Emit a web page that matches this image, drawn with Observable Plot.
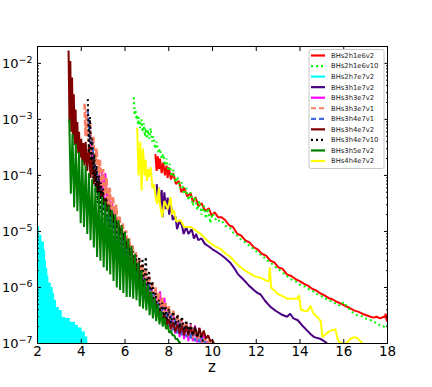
<!DOCTYPE html>
<html><head><meta charset="utf-8">
<script src="https://cdn.jsdelivr.net/npm/d3@7"></script>
<script src="https://cdn.jsdelivr.net/npm/@observablehq/plot@0.6"></script>
<style>body{margin:0;background:#fff;}</style>
</head><body><div id="chart"></div>
<script>
// ---- series metadata (legend order = draw order)
const seriesNames = ["BHs2h1e6v2","BHs2h1e6v10","BHs2h7e7v2","BHs3h1e7v2","BHs3h3e7v2","BHs3h3e7v1","BHs3h4e7v1","BHs3h4e7v2","BHs3h4e7v10","BHs3h5e7v2","BHs4h4e7v2"];
const seriesColors = ["#ff0000","#00ff00","#00ffff","#4b0082","#ff00ff","#fa7f62","#4169e1","#800000","#000000","#008000","#ffff00"];
const seriesDash = [null,"2,3",null,null,null,"6,2","6,2",null,"2,3",null,null];

// ---- tick labels
const xTicks = [2,4,6,8,10,12,14,16,18];
const yMajor = [1e-7,1e-6,1e-5,1e-4,1e-3,1e-2];
const yMinorMantissa = [2,3,4,5,6,7,8,9];

// ---- BHs2h1e6v2 (red): peak / dip values on a z grid
const redZ = [7.39,7.5,7.6,7.75,7.9,8.0,8.2,8.46,8.7,9.0,9.22,9.5,9.83,10.1,10.4,10.75,11.13,11.5,11.89,12.25,12.65,13.0,13.41,13.8,14.17,14.55,14.94,15.3,15.7,16.1,16.46,16.85,17.22,17.5,17.83,17.92,18.0];
const redTop = [2.4e-4,2.2e-4,2.0e-4,1.7e-4,1.5e-4,1.4e-4,1.1e-4,8e-5,6e-5,4.8e-5,4.1e-5,3.2e-5,2.6e-5,2.2e-5,1.8e-5,1.3e-5,9.1e-6,6.9e-6,5.2e-6,4e-6,3.0e-6,2.3e-6,1.7e-6,1.4e-6,1.17e-6,9.5e-7,7.8e-7,6.5e-7,5.5e-7,4.6e-7,3.9e-7,3.4e-7,3.0e-7,3.0e-7,3.0e-7,3.4e-7,2.5e-7];
const redDip = [1.2e-4,1.3e-4,1.1e-4,1.0e-4,9e-5,8.5e-5,7e-5,5e-5,4.2e-5,3.3e-5,2.8e-5,2.3e-5,1.9e-5,1.8e-5,1.6e-5,1.2e-5,8.4e-6,6.4e-6,4.8e-6,3.7e-6,2.8e-6,2.15e-6,1.6e-6,1.3e-6,1.08e-6,8.8e-7,7.2e-7,6.1e-7,5.1e-7,4.3e-7,3.7e-7,3.2e-7,2.9e-7,2.8e-7,2.9e-7,2.6e-7,2.5e-7];

// ---- BHs2h1e6v10 (lime, dotted)
const limeZ = [6.4,6.48,6.56,6.63,6.75,6.86,6.95,7.05,7.17,7.3,7.45,7.6,7.75,7.9,8.05,8.2,8.4,8.6,8.8,9.0,9.2,9.4,9.6,9.8,10.0,10.4,10.8,11.1,11.5,11.9,12.3,12.65,13.0,13.4,13.8,14.2,14.6,14.95,15.3,15.7,16.0,16.4,16.8,17.2,17.5,17.8,18.0];
const limeTop = [2.5e-3,1.5e-3,1.2e-3,1.1e-3,1.0e-3,8.5e-4,7e-4,6.5e-4,7e-4,5e-4,4e-4,3e-4,2.4e-4,2.0e-4,1.6e-4,1.25e-4,9.5e-5,7.5e-5,6e-5,5e-5,4.2e-5,3.5e-5,2.9e-5,2.6e-5,2.1e-5,1.6e-5,1.15e-5,8.6e-6,6.4e-6,4.8e-6,3.6e-6,2.8e-6,2.15e-6,1.6e-6,1.28e-6,1.05e-6,8.6e-7,7.2e-7,6.1e-7,5.1e-7,5.5e-7,3.6e-7,3.1e-7,2.65e-7,2.35e-7,2.05e-7,2.1e-7];
const limeDip = [1.2e-3,1.0e-3,8e-4,7e-4,6e-4,5e-4,4.5e-4,4.5e-4,4e-4,3e-4,2.5e-4,2e-4,1.5e-4,1.2e-4,9.5e-5,7.5e-5,6e-5,4.6e-5,3.6e-5,2.9e-5,2.4e-5,2e-5,1.7e-5,1.4e-5,1.5e-5,1.25e-5,9.6e-6,7.2e-6,5.5e-6,4.1e-6,3.1e-6,2.4e-6,1.85e-6,1.4e-6,1.12e-6,9.3e-7,7.6e-7,6.4e-7,5.4e-7,4.7e-7,4.3e-7,3.2e-7,2.8e-7,2.4e-7,2.1e-7,1.9e-7,1.9e-7];

// ---- BHs2h7e7v2 (cyan, dense -> filled)
const cyanZ = [2.0,2.1,2.2,2.32,2.37,2.41,2.47,2.52,2.63,2.72,2.78,2.87,3.0,3.13,3.28,3.5,3.74,3.87,4.04,4.19,4.3];
const cyanY = [1.2e-5,8.5e-6,6.5e-6,4.6e-6,3.0e-6,2.2e-6,1.6e-6,1.2e-6,1.0e-6,7.8e-7,5.9e-7,4.4e-7,3.9e-7,2.9e-7,2.8e-7,2.4e-7,2.1e-7,1.9e-7,1.6e-7,1.3e-7,1.1e-7];

// ---- BHs3h1e7v2 (indigo)
const indZ = [7.45,7.5,7.55,7.6,7.68,7.72,7.8,7.87,7.95,8.02,8.1,8.18,8.3,8.38,8.48,8.6,8.68,8.8,8.9,9.05,9.15,9.25,9.35,9.5,9.65,9.8,10.0,10.2,10.4,10.6,10.8,11.0,11.15,11.4,11.65,11.9,12.05,12.2,12.4,12.65,12.9,13.15,13.41,13.55,13.7,13.9,14.1,14.33,14.5,14.65,14.95,15.1,15.25];
const indY = [7e-5,3.5e-5,6e-5,3e-5,5.5e-5,1.8e-5,5e-5,2.5e-5,4e-5,2e-5,3e-5,1.6e-5,1.9e-5,1.1e-5,1.5e-5,1.3e-5,9e-6,1.2e-5,9e-6,1.1e-5,7.5e-6,9e-6,7e-6,7.5e-6,6e-6,5.5e-6,4.8e-6,4.3e-6,3.8e-6,3.3e-6,2.8e-6,2.2e-6,1.75e-6,1.4e-6,1.1e-6,8.9e-7,8e-7,7.5e-7,5.8e-7,4.5e-7,3.8e-7,3.3e-7,3.0e-7,3.4e-7,2.8e-7,2.6e-7,2.1e-7,1.7e-7,1.45e-7,1.3e-7,1.2e-7,1.1e-7,1.0e-7];

// ---- BHs3h3e7v2 (magenta)
const magZ = [4.4,4.6,4.8,4.95,5.1,5.25,5.4,5.55,5.7,5.85,6.0,6.2,6.4,6.6,6.8,7.0,7.2,7.4,7.6,7.8,8.0,8.2,8.4,8.6,8.8,9.0,9.2,9.4,9.6,9.8];
const magTop = [6e-4,2.2e-4,1.3e-4,1.2e-4,1.1e-4,6e-5,3.5e-5,2.3e-5,1.6e-5,1.15e-5,8.5e-6,5.8e-6,3.8e-6,2.6e-6,1.9e-6,1.5e-6,1.15e-6,9.5e-7,8.5e-7,6.5e-7,4.6e-7,3.6e-7,3.0e-7,2.6e-7,2.3e-7,2.2e-7,2.1e-7,1.9e-7,1.4e-7,1.1e-7];
const magDip = [2e-4,9e-5,5e-5,4e-5,3.5e-5,2.2e-5,1.3e-5,8.5e-6,6e-6,4.3e-6,3.2e-6,2.1e-6,1.4e-6,1e-6,7.5e-7,5.7e-7,4.3e-7,3.4e-7,3e-7,2.4e-7,1.8e-7,1.5e-7,1.3e-7,1.2e-7,1.1e-7,1.1e-7,1.05e-7,1e-7,1e-7,1e-7];

// ---- BHs3h3e7v1 (salmon, dashed)
const salZ = [4.15,4.25,4.4,4.55,4.7,4.85,5.0,5.15,5.3,5.45,5.6,5.75,5.9,6.05,6.2,6.35,6.5,6.65,6.8,6.95,7.1,7.25,7.4,7.55,7.7,7.85,8.0,8.2,8.4,8.6,8.8,9.0,9.2,9.4,9.6,9.8,10.0];
const salTop = [1.9e-3,1.5e-3,9e-4,5e-4,3e-4,1.9e-4,1.3e-4,9e-5,6e-5,4.2e-5,3e-5,1.9e-5,1.4e-5,1.05e-5,7.5e-6,5.7e-6,4.3e-6,3.3e-6,2.6e-6,2.0e-6,1.6e-6,1.25e-6,1.0e-6,8e-7,6.6e-7,5.5e-7,4.7e-7,3.9e-7,3.3e-7,2.8e-7,2.4e-7,2.1e-7,1.8e-7,1.5e-7,1.3e-7,1.1e-7,1.0e-7];
const salDip = [5e-4,4e-4,2.5e-4,1.5e-4,1e-4,6.5e-5,4.5e-5,3e-5,2e-5,1.4e-5,1e-5,7e-6,5e-6,3.8e-6,2.8e-6,2.1e-6,1.6e-6,1.3e-6,1.0e-6,8e-7,6.5e-7,5.2e-7,4.2e-7,3.5e-7,3e-7,2.6e-7,2.2e-7,1.9e-7,1.7e-7,1.5e-7,1.35e-7,1.25e-7,1.15e-7,1.05e-7,1.0e-7,1.0e-7,1.0e-7];

// ---- BHs3h4e7v1 (blue, dashed)
const bluZ = [4.3,4.5,4.7,4.9,5.1,5.3,5.5,5.7,5.9,6.1,6.3,6.5,6.7,6.9,7.1,7.3,7.5,7.7,7.9,8.1,8.3,8.5,8.7,8.9,9.1,9.3,9.5,9.7];
const bluTop = [1.5e-3,4e-4,1.3e-4,6e-5,3.5e-5,2.3e-5,1.5e-5,1e-5,7e-6,5e-6,3.5e-6,2.5e-6,1.8e-6,1.5e-6,1.2e-6,8e-7,5.5e-7,4.5e-7,3.8e-7,3.2e-7,2.7e-7,2.4e-7,2.1e-7,1.9e-7,1.7e-7,1.5e-7,1.3e-7,1.1e-7];
const bluDip = [4e-4,1.5e-4,5e-5,2.4e-5,1.4e-5,9e-6,6e-6,4e-6,2.8e-6,2e-6,1.4e-6,1e-6,8e-7,7e-7,5.5e-7,3.8e-7,2.8e-7,2.3e-7,2e-7,1.7e-7,1.5e-7,1.4e-7,1.3e-7,1.2e-7,1.1e-7,1.05e-7,1e-7,1e-7];

// ---- BHs3h4e7v2 (dark red)
const drZ = [3.42,3.5,3.58,3.66,3.74,3.82,3.9,4.0,4.1,4.2,4.35,4.5,4.65,4.8,4.95,5.1,5.25,5.4,5.55,5.7,5.85,6.0,6.15,6.3,6.45,6.6,6.75,6.9,7.05,7.2,7.4,7.6,7.8,8.0,8.2,8.4,8.6,8.8,9.0,9.2,9.4,9.6,9.8,10.0,10.1];
const drTop = [1.7e-2,1.1e-2,5.6e-3,2.8e-3,1.5e-3,9e-4,6e-4,4.5e-4,3.8e-4,4e-4,3.5e-4,2.2e-4,1.3e-4,8e-5,5.5e-5,4e-5,3e-5,2.3e-5,1.8e-5,1.4e-5,1.1e-5,8e-6,6e-6,4.5e-6,3.3e-6,2.3e-6,1.7e-6,1.2e-6,9e-7,7e-7,5.5e-7,4.2e-7,3.3e-7,2.7e-7,2.4e-7,2.2e-7,2.1e-7,2.1e-7,2.0e-7,2.0e-7,1.9e-7,1.7e-7,1.4e-7,1.15e-7,1.0e-7];
const drDip = [9e-4,6e-4,4.5e-4,3.5e-4,3e-4,2.5e-4,2.1e-4,1.7e-4,1.5e-4,1.2e-4,9e-5,7e-5,5e-5,3.8e-5,3e-5,2.4e-5,1.9e-5,1.5e-5,1.2e-5,9e-6,7e-6,5e-6,3.6e-6,2.6e-6,1.9e-6,1.3e-6,1.0e-6,7e-7,5e-7,4e-7,3.2e-7,2.6e-7,2.1e-7,1.8e-7,1.6e-7,1.5e-7,1.4e-7,1.4e-7,1.4e-7,1.3e-7,1.3e-7,1.2e-7,1.1e-7,1.0e-7,1.0e-7];

// ---- BHs3h4e7v10 (black, dotted)
const blkZ = [4.3,4.4,4.5,4.6,4.7,4.8,4.9,5.0,5.15,5.3,5.45,5.6,5.75,5.9,6.05,6.2,6.35,6.5,6.65,6.8,6.95,7.1,7.25,7.4,7.55,7.7,7.85,8.0,8.2,8.4,8.6,8.8,9.0,9.2,9.4,9.6];
const blkTop = [2.3e-3,1.1e-3,4.5e-4,2.4e-4,1.5e-4,1.0e-4,7.5e-5,5.8e-5,4e-5,2.9e-5,2.1e-5,1.6e-5,1.2e-5,9.5e-6,7e-6,5.4e-6,4.4e-6,3.8e-6,3.4e-6,3.3e-6,3.5e-6,2.0e-6,1.3e-6,8e-7,6e-7,5.3e-7,4.7e-7,4.2e-7,3.7e-7,3.3e-7,3.0e-7,2.6e-7,2.3e-7,2.0e-7,1.7e-7,1.1e-7];
const blkDip = [2.5e-4,1.8e-4,9e-5,5e-5,3.2e-5,2.2e-5,1.6e-5,1.2e-5,8.5e-6,6.3e-6,4.7e-6,3.6e-6,2.8e-6,2.2e-6,1.8e-6,1.5e-6,1.3e-6,1.15e-6,1.05e-6,1.0e-6,9.5e-7,7e-7,5.2e-7,3.8e-7,3.1e-7,2.8e-7,2.5e-7,2.3e-7,2.1e-7,1.9e-7,1.7e-7,1.55e-7,1.4e-7,1.3e-7,1.15e-7,1.0e-7];

// ---- BHs3h5e7v2 (green)
const grnZ = [3.45,3.6,3.75,3.9,4.05,4.2,4.35,4.5,4.65,4.8,4.95,5.1,5.25,5.4,5.55,5.7,5.85,6.0,6.15,6.3,6.45,6.6,6.75,6.9,7.05,7.2,7.35,7.5,7.65,7.8,7.95,8.1,8.25,8.4,8.55];
const grnTop = [1.0e-3,5.5e-4,3.7e-4,2.6e-4,1.9e-4,1.5e-4,1.1e-4,8.5e-5,6.4e-5,5.0e-5,4.2e-5,3.5e-5,2.9e-5,2.4e-5,2.0e-5,1.6e-5,1.3e-5,1.0e-5,7.5e-6,5.5e-6,4.0e-6,2.8e-6,2.0e-6,1.4e-6,1.1e-6,8.5e-7,6.5e-7,5.0e-7,3.8e-7,2.9e-7,2.1e-7,1.7e-7,1.4e-7,1.2e-7,1.05e-7];
const grnDip = [4.7e-5,2.7e-5,2.3e-5,1.4e-5,1.2e-5,9e-6,7e-6,5.2e-6,3.5e-6,3.0e-6,2.3e-6,2.0e-6,1.7e-6,1.3e-6,1.0e-6,9e-7,8e-7,6.8e-7,6.8e-7,6.3e-7,5.9e-7,4.6e-7,4.2e-7,3.9e-7,3.2e-7,2.8e-7,2.5e-7,2.2e-7,2.0e-7,1.8e-7,1.55e-7,1.4e-7,1.2e-7,1.05e-7,1.0e-7];

// ---- BHs4h4e7v2 (yellow)
const yelZ = [6.5,6.56,6.62,6.7,6.76,6.82,6.9,6.94,7.0,7.05,7.09,7.17,7.25,7.32,7.4,7.47,7.55,7.6,7.7,7.8,7.95,8.08,8.15,8.23,8.35,8.54,8.7,8.84,9.0,9.15,9.3,9.45,9.6,9.76,10.0,10.21,10.37,10.6,10.82,11.05,11.28,11.5,11.7,11.89,12.19,12.5,12.58,12.62,12.68,12.8,12.96,13.2,13.41,13.65,13.87,13.95,14.05,14.2,14.35,14.48,14.6,14.79,14.95,15.02,15.2,15.39,15.62,15.72,15.77,15.9,16.1,16.3,16.46,16.6,16.77,16.85];
const yelY = [6.8e-4,6.8e-4,1e-4,4e-4,5.4e-5,3e-4,1e-4,1.9e-4,8e-5,1.3e-4,9.3e-5,1.4e-4,6e-5,7.1e-5,4e-5,3.1e-5,6e-5,3e-5,1.8e-5,3.5e-5,2.5e-5,4.1e-5,2e-5,2.4e-5,1.5e-5,1.6e-5,1.2e-5,1.2e-5,1.2e-5,1.1e-5,1.0e-5,9.1e-6,8e-6,6.9e-6,5.8e-6,5.2e-6,4.9e-6,4e-6,3.5e-6,2.8e-6,2.3e-6,2e-6,1.8e-6,1.6e-6,1.5e-6,1.3e-6,1.3e-6,2.3e-6,1.0e-6,9e-7,7.8e-7,7e-7,6.3e-7,6.3e-7,6.3e-7,7.2e-7,4e-7,3.8e-7,3.8e-7,4.7e-7,3.5e-7,3e-7,2.5e-7,1.3e-7,1.5e-7,1.7e-7,1.8e-7,1.2e-7,1.1e-7,1.0e-7,1.0e-7,1.2e-7,1.3e-7,1.25e-7,1.1e-7,1.0e-7];

// ---- build point tables
const pairs = (Z, Y) => Z.map((z, i) => ({z, y: Y[i]}));
// noisy histogram: each grid bin has a peak value and a following dip value
const spiky = (Z, T, D) => Z.flatMap((z, i) => i < Z.length - 1
  ? [{z, y: T[i]}, {z: (z + Z[i + 1]) / 2, y: D[i]}]
  : [{z, y: T[i]}]);

const tables = [
  spiky(redZ, redTop, redDip),
  spiky(limeZ, limeTop, limeDip),
  pairs(cyanZ, cyanY),
  pairs(indZ, indY),
  spiky(magZ, magTop, magDip),
  spiky(salZ, salTop, salDip),
  spiky(bluZ, bluTop, bluDip),
  spiky(drZ, drTop, drDip),
  spiky(blkZ, blkTop, blkDip),
  spiky(grnZ, grnTop, grnDip),
  pairs(yelZ, yelY)
];
const widths = [2, 2, 2, 2, 2, 2.6, 2, 2, 2, 2, 2];

const yFloor = yMajor[0];
const yMinor = yMajor.slice(0, -1).flatMap(d => yMinorMantissa.map(m => m * d));
const expOf = d => Math.round(Math.log10(d));

const seriesMarks = tables.map((t, i) => i === 2
  ? Plot.areaY(t, {x: "z", y1: () => yFloor, y2: "y", fill: seriesColors[i], curve: "step-after", clip: true})
  : Plot.line(t, {x: "z", y: "y", stroke: seriesColors[i], strokeWidth: widths[i],
      strokeDasharray: seriesDash[i] ?? undefined, strokeLinejoin: "miter", strokeLinecap: "butt", clip: true}));

const chart = Plot.plot({
  width: 432, height: 387,
  marginLeft: 37, marginRight: 45, marginTop: 46, marginBottom: 44,
  style: {fontFamily: "DejaVu Sans, sans-serif", background: "white", color: "black", overflow: "visible"},
  x: {domain: [2, 18]},
  y: {type: "log", domain: [1e-7, 2e-2]},
  marks: [
    ...seriesMarks,
    Plot.frame({stroke: "black", strokeWidth: 1}),
    Plot.axisX({ticks: xTicks, tickSize: -4, tickFormat: () => "", label: null}),
    Plot.axisX({anchor: "top", ticks: xTicks, tickSize: -4, tickFormat: () => "", label: null}),
    Plot.axisX({ticks: xTicks, tickSize: 0, tickPadding: 3, fontSize: 13.5, tickFormat: d => String(d), label: null}),
    Plot.axisY({ticks: yMajor, tickSize: -4, tickFormat: () => "", label: null}),
    Plot.axisY({anchor: "right", ticks: yMajor, tickSize: -4, tickFormat: () => "", label: null}),
    Plot.axisY({ticks: yMinor, tickSize: -2, tickFormat: () => "", label: null}),
    Plot.axisY({anchor: "right", ticks: yMinor, tickSize: -2, tickFormat: () => "", label: null}),
    Plot.axisY({ticks: yMajor, tickSize: 0, tickPadding: 5, fontSize: 13, tickFormat: d => "10^" + expOf(d), label: null})
  ]
});
document.getElementById("chart").appendChild(chart);

const svg = d3.select(chart);
// superscript exponents on the y tick labels
svg.selectAll("text").each(function () {
  const s = this.textContent;
  if (s.startsWith("10^")) {
    const e = s.slice(3).replace("-", "\u2212");
    d3.select(this).text("10").append("tspan").attr("dy", "-0.5em").attr("font-size", "9.5px").text(e);
  }
});

// x-axis title
const xs = chart.scale("x");
svg.append("text").attr("x", (xs.apply(2) + xs.apply(18)) / 2).attr("y", 372)
  .attr("text-anchor", "middle").attr("font-size", 15).attr("fill", "black").text("z");

// legend
const lg = svg.append("g").attr("font-family", "DejaVu Sans, sans-serif").attr("text-anchor", "start");
lg.append("rect").attr("x", 309).attr("y", 49.5).attr("width", 75).attr("height", 119)
  .attr("rx", 2).attr("fill", "white").attr("stroke", "#c8c8c8").attr("stroke-width", 1);
seriesNames.forEach((name, i) => {
  const yy = 55.5 + i * 10.55;
  lg.append("line").attr("x1", 311).attr("x2", 325).attr("y1", yy).attr("y2", yy)
    .attr("stroke", seriesColors[i]).attr("stroke-width", 2.2)
    .attr("stroke-dasharray", seriesDash[i] === "2,3" ? "2,3" : seriesDash[i] ? "5,3" : null);
  lg.append("text").attr("x", 331).attr("y", yy).attr("dy", "0.35em").attr("text-anchor", "start")
    .attr("font-size", 6.8).attr("fill", "#222").text(name);
});
</script></body></html>
